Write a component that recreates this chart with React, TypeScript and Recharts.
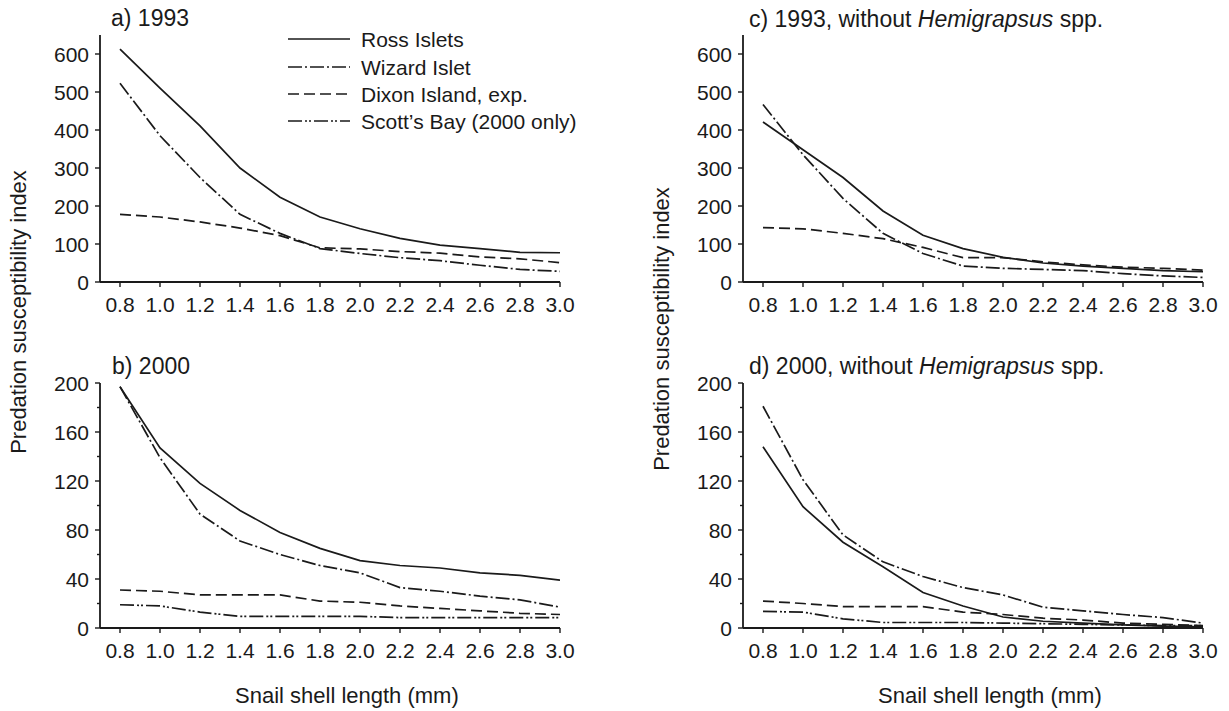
import React from 'react';
import { LineChart, Line, XAxis, YAxis } from 'recharts';

// snail shell length classes (mm)
const shellLength = [0.8, 1.0, 1.2, 1.4, 1.6, 1.8, 2.0, 2.2, 2.4, 2.6, 2.8, 3.0];

// a) 1993
const rossA = [613, 510, 411, 300, 223, 171, 140, 115, 97, 88, 78, 77];
const wizardA = [523, 385, 275, 178, 128, 88, 75, 64, 56, 44, 33, 28];
const dixonA = [178, 171, 158, 142, 122, 90, 87, 80, 76, 66, 61, 51];

// b) 2000
const rossB = [197, 147, 118, 96, 78, 65, 55, 51, 49, 45, 43, 39];
const wizardB = [197, 139, 93, 71, 60, 51, 45, 33, 30, 26, 23, 17];
const dixonB = [31, 30, 27, 27, 27, 22, 21, 18, 16, 14, 12, 11];
const scottB = [19, 18, 13, 9.5, 9.5, 9.5, 9.5, 8.5, 8.5, 8.5, 8.5, 8.5];

// c) 1993, without Hemigrapsus
const rossC = [421, 348, 275, 187, 123, 88, 65, 50, 42, 36, 30, 27];
const wizardC = [467, 335, 220, 128, 75, 42, 36, 33, 30, 22, 16, 12];
const dixonC = [143, 140, 128, 114, 91, 64, 64, 53, 45, 39, 36, 31];

// d) 2000, without Hemigrapsus
const rossD = [148, 99, 70, 50, 29, 18, 9, 5.5, 4, 2.5, 1.5, 1];
const wizardD = [181, 121, 76, 54, 42, 33, 27, 17, 14, 11, 8.5, 4];
const dixonD = [22, 20, 17.5, 17.5, 17.5, 13, 11, 8, 6.5, 4, 3, 2];
const scottD = [13.5, 13, 7.5, 4.5, 4.5, 4.5, 4, 3.5, 3, 2.5, 2, 2];

const ticks1993 = [0, 100, 200, 300, 400, 500, 600];
const ticks2000 = [0, 20, 40, 60, 80, 100, 120, 140, 160, 180, 200];

const FONT = '"Liberation Sans", Arial, Helvetica, sans-serif';
const INK = '#1a1a1a';
const AXW = 100; // y axis width inside each chart
const PLOT_W = 460;

const SERIES = [
  { key: 'ross', name: 'Ross Islets', dash: undefined as string | undefined },
  { key: 'wizard', name: 'Wizard Islet', dash: '14 3 2 3' },
  { key: 'dixon', name: 'Dixon Island, exp.', dash: '11 5' },
  { key: 'scott', name: 'Scott\u2019s Bay (2000 only)', dash: '14 3 2 2 2 3' },
];

function toRows(series: Record<string, number[]>) {
  return shellLength.map((x, i) => {
    const row: Record<string, number> = { x };
    Object.keys(series).forEach((k) => {
      row[k] = series[k][i];
    });
    return row;
  });
}

const dataA = toRows({ ross: rossA, wizard: wizardA, dixon: dixonA });
const dataB = toRows({ ross: rossB, wizard: wizardB, dixon: dixonB, scott: scottB });
const dataC = toRows({ ross: rossC, wizard: wizardC, dixon: dixonC });
const dataD = toRows({ ross: rossD, wizard: wizardD, dixon: dixonD, scott: scottD });

function YTick(props: any) {
  const { x, y, payload, step } = props;
  const major = payload.value % step === 0;
  return (
    <g>
      <line x1={AXW - (major ? 5 : 3)} x2={AXW} y1={y} y2={y} stroke={INK} strokeWidth={1.4} />
      {major && (
        <text x={x} y={y} dy="0.36em" textAnchor="end" fontSize={21} fill={INK}>
          {payload.value}
        </text>
      )}
    </g>
  );
}

type PanelProps = {
  left: number;
  top: number;
  plotHeight: number;
  data: Record<string, number>[];
  yMax: number;
  yTicks: number[];
  step: number;
};

function Panel({ left, top, plotHeight, data, yMax, yTicks, step }: PanelProps) {
  const mt = 20;
  const xh = 60;
  const keys = Object.keys(data[0]).filter((k) => k !== 'x');
  return (
    <div style={{ position: 'absolute', left: left - AXW, top: top - mt }}>
      <LineChart
        width={AXW + PLOT_W + 30}
        height={mt + plotHeight + xh}
        data={data}
        margin={{ top: mt, right: 30, left: 0, bottom: 0 }}
      >
        <XAxis
          dataKey="x"
          type="number"
          domain={[0.7, 3.0]}
          ticks={shellLength}
          interval={0}
          allowDataOverflow
          tickFormatter={(v: number) => v.toFixed(1)}
          height={xh}
          tickSize={5}
          tickMargin={10}
          axisLine={{ stroke: INK, strokeWidth: 1.8 }}
          tickLine={{ stroke: INK, strokeWidth: 1.4 }}
          tick={{ fill: INK, fontSize: 21 }}
        />
        <YAxis
          type="number"
          domain={[0, yMax]}
          ticks={yTicks}
          interval={0}
          allowDataOverflow
          width={AXW}
          tickSize={5}
          tickMargin={6}
          axisLine={{ stroke: INK, strokeWidth: 1.8 }}
          tickLine={false}
          tick={(p: any) => <YTick {...p} step={step} />}
        />
        {SERIES.filter((s) => keys.includes(s.key)).map((s) => (
          <Line
            key={s.key}
            dataKey={s.key}
            name={s.name}
            type="linear"
            stroke={INK}
            strokeWidth={1.7}
            strokeDasharray={s.dash}
            dot={false}
            activeDot={false}
            isAnimationActive={false}
          />
        ))}
      </LineChart>
    </div>
  );
}

function Title({ left, cy, children }: { left: number; cy: number; children: React.ReactNode }) {
  return (
    <div
      style={{
        position: 'absolute',
        left,
        top: cy,
        transform: 'translateY(-50%)',
        fontSize: 23,
        whiteSpace: 'nowrap',
        lineHeight: 1,
      }}
    >
      {children}
    </div>
  );
}

function YLabel({ cx, cy }: { cx: number; cy: number }) {
  return (
    <div
      style={{
        position: 'absolute',
        left: cx,
        top: cy,
        transform: 'translate(-50%, -50%) rotate(-90deg)',
        fontSize: 22,
        whiteSpace: 'nowrap',
        lineHeight: 1,
      }}
    >
      Predation susceptibility index
    </div>
  );
}

function XLabel({ left, cy }: { left: number; cy: number }) {
  return (
    <div
      style={{
        position: 'absolute',
        left,
        top: cy,
        transform: 'translateY(-50%)',
        fontSize: 22,
        whiteSpace: 'nowrap',
        lineHeight: 1,
      }}
    >
      Snail shell length (mm)
    </div>
  );
}

function KeyBox() {
  const rows = [39, 67, 94, 121];
  return (
    <>
      {SERIES.map((s, i) => (
        <div key={s.key} style={{ position: 'absolute', left: 288, top: rows[i] - 12, height: 24 }}>
          <svg width={64} height={24} style={{ position: 'absolute', left: 0, top: 0 }}>
            <line x1={0} x2={62} y1={12} y2={12} stroke={INK} strokeWidth={1.7} strokeDasharray={s.dash} />
          </svg>
          <div
            style={{
              position: 'absolute',
              left: 73,
              top: 12,
              transform: 'translateY(-50%)',
              fontSize: 21,
              whiteSpace: 'nowrap',
              lineHeight: 1,
            }}
          >
            {s.name}
          </div>
        </div>
      ))}
    </>
  );
}

export default function App() {
  return (
    <div
      style={{
        position: 'absolute',
        left: 0,
        top: 0,
        width: 1229,
        height: 711,
        background: '#fff',
        color: INK,
        fontFamily: FONT,
        overflow: 'hidden',
      }}
    >
      <Panel left={100} top={35} plotHeight={247} data={dataA} yMax={650} yTicks={ticks1993} step={100} />
      <Panel left={100} top={383} plotHeight={245} data={dataB} yMax={200} yTicks={ticks2000} step={40} />
      <Panel left={743} top={35} plotHeight={247} data={dataC} yMax={650} yTicks={ticks1993} step={100} />
      <Panel left={743} top={383} plotHeight={245} data={dataD} yMax={200} yTicks={ticks2000} step={40} />

      <Title left={111} cy={18}>a) 1993</Title>
      <Title left={112} cy={366}>b) 2000</Title>
      <Title left={749} cy={19}>
        c) 1993, without <i>Hemigrapsus</i> spp.
      </Title>
      <Title left={749} cy={366}>
        d) 2000, without <i>Hemigrapsus</i> spp.
      </Title>

      <KeyBox />

      <YLabel cx={19} cy={312} />
      <YLabel cx={662} cy={329} />
      <XLabel left={235} cy={696} />
      <XLabel left={878} cy={696} />
    </div>
  );
}
